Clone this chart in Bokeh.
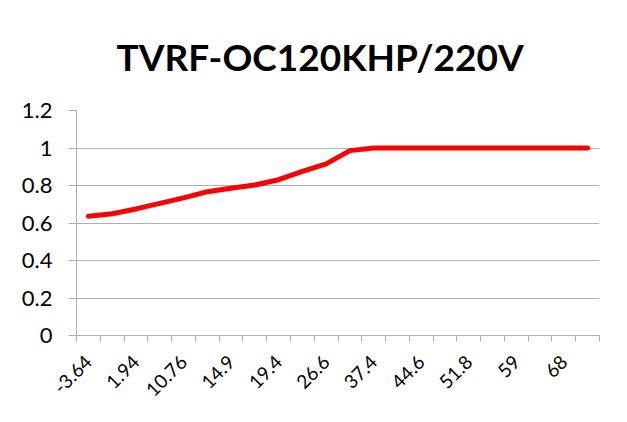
import math
from bokeh.plotting import figure
from bokeh.models import FixedTicker, Range1d
from bokeh.embed import file_html
from bokeh.resources import INLINE

title_text = "TVRF-OC120KHP/220V"
x_labels = ["-3.64", "-0.85", "1.94", "6.35", "10.76", "12.83", "14.9", "17.15",
            "19.4", "23", "26.6", "32", "37.4", "41", "44.6", "48.2", "51.8",
            "55.4", "59", "63.5", "68", "72"]
ratio = [0.636, 0.649, 0.675, 0.705, 0.734, 0.767, 0.785, 0.803, 0.831, 0.875,
         0.915, 0.986, 1.0, 1.0, 1.0, 1.0, 1.0, 1.0, 1.0, 1.0, 1.0, 1.0]
y_ticks = [0, 0.2, 0.4, 0.6, 0.8, 1.0, 1.2]
y_tick_labels = ["0", "0.2", "0.4", "0.6", "0.8", "1", "1.2"]

idx = list(range(len(x_labels)))
GRAY = "#b0b0b0"
FONT = "Lato"

p = figure(width=619, height=414, output_backend="svg", toolbar_location=None,
           x_range=Range1d(-0.5, len(x_labels) - 0.5), y_range=Range1d(0, 1.2),
           min_border_left=76, min_border_right=20, min_border_top=110,
           min_border_bottom=79, title=title_text)
p.outline_line_color = None
p.background_fill_color = "white"
p.border_fill_color = "white"

p.title.align = "left"
p.title.vertical_align = "top"
p.title.text_font = FONT
p.title.text_font_style = "bold"
p.title.text_font_size = "37px"
p.title.text_color = "black"
p.title.standoff = 60
p.title.offset = 40

p.line(idx, ratio, line_color="#ff0000", line_width=5, line_cap="round", line_join="round")

# x axis
p.xaxis.ticker = FixedTicker(ticks=idx[::2], minor_ticks=[i - 0.5 for i in range(len(x_labels) + 1)])
p.xaxis.major_label_overrides = {i: x_labels[i] for i in idx}
p.xaxis.major_label_orientation = math.pi / 4
p.xaxis.major_tick_out = 0
p.xaxis.major_tick_in = 0
p.xaxis.minor_tick_out = 6
p.xaxis.minor_tick_in = 0
p.xaxis.minor_tick_line_color = GRAY
p.xaxis.axis_line_color = GRAY
p.xaxis.major_label_text_font = FONT
p.xaxis.major_label_text_font_size = "19px"
p.xaxis.major_label_text_color = "black"
p.xaxis.major_label_standoff = 17
p.xgrid.grid_line_color = None

# y axis
p.yaxis.ticker = FixedTicker(ticks=y_ticks)
p.yaxis.major_label_overrides = {t: l for t, l in zip(y_ticks, y_tick_labels)}
p.yaxis.major_tick_out = 8
p.yaxis.major_tick_in = 0
p.yaxis.major_tick_line_color = GRAY
p.yaxis.minor_tick_line_color = None
p.yaxis.axis_line_color = GRAY
p.yaxis.major_label_text_font = FONT
p.yaxis.major_label_text_font_size = "22px"
p.yaxis.major_label_text_color = "black"
p.yaxis.major_label_standoff = 16
p.ygrid.grid_line_color = GRAY
p.ygrid.ticker = FixedTicker(ticks=y_ticks)

open("out.html", "w").write(file_html(p, INLINE))
